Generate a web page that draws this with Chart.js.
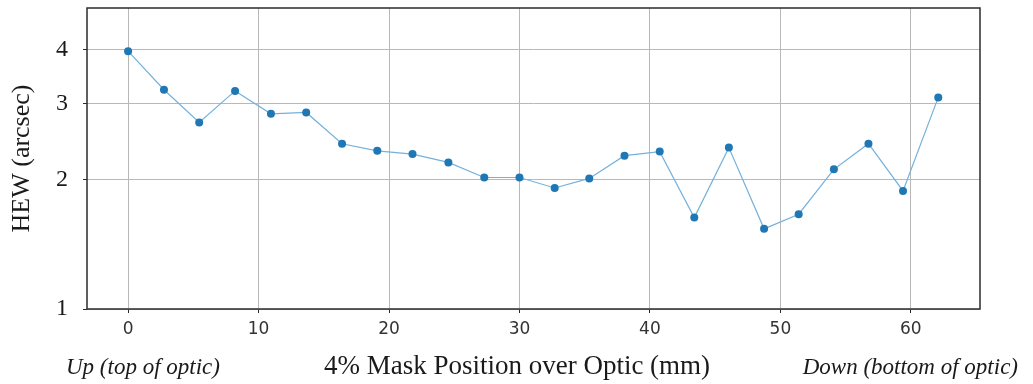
<!DOCTYPE html>
<html>
<head>
<meta charset="utf-8">
<script src="https://cdn.jsdelivr.net/npm/chart.js@4.4.1/dist/chart.umd.min.js"></script>
<style>
  html, body { margin: 0; padding: 0; background: #fff; }
  #wrap { width: 1033px; height: 384px; }
</style>
</head>
<body>
<div id="wrap"><canvas id="hewChart" width="1033" height="384"></canvas></div>
<script>
// mask positions (mm) and measured HEW (arcsec)
var positions = [0, 2.75, 5.45, 8.2, 10.95, 13.65, 16.4, 19.1, 21.8, 24.55, 27.3, 30.0,
                 32.7, 35.35, 38.05, 40.75, 43.4, 46.05, 48.75, 51.4, 54.1, 56.75, 59.4, 62.1];
var hew = [3.97, 3.23, 2.71, 3.21, 2.84, 2.86, 2.42, 2.33, 2.29, 2.19, 2.02, 2.02,
           1.91, 2.01, 2.27, 2.32, 1.63, 2.37, 1.535, 1.66, 2.11, 2.42, 1.88, 3.10];
var xTicks = [0, 10, 20, 30, 40, 50, 60];
var yTicks = [1, 2, 3, 4];

var xTitle = "4% Mask Position over Optic (mm)";
var leftNote = "Up (top of optic)";
var rightNote = "Down (bottom of optic)";

var points = positions.map(function (p, i) { return { x: p, y: hew[i] }; });

// frame round the plot + the texts under the x axis
var framePlugin = {
  id: "frame",
  beforeDatasetsDraw: function (chart) {
    var a = chart.chartArea, ctx = chart.ctx;
    ctx.save();
    ctx.strokeStyle = "#2b2b2b";
    ctx.lineWidth = 1.5;
    ctx.strokeRect(a.left, a.top, a.right - a.left, a.bottom - a.top);
    ctx.restore();
  },
  afterDraw: function (chart) {
    var ctx = chart.ctx;
    ctx.save();
    ctx.fillStyle = "#1a1a1a";
    ctx.textBaseline = "middle";
    ctx.font = "27px 'Liberation Serif', 'Times New Roman', serif";
    ctx.textAlign = "center";
    ctx.fillText(xTitle, 517, 367);
    ctx.font = "italic 23px 'Liberation Serif', 'Times New Roman', serif";
    ctx.textAlign = "left";
    ctx.fillText(leftNote, 66, 368);
    ctx.textAlign = "right";
    ctx.fillText(rightNote, 1018, 368);
    ctx.restore();
  }
};

new Chart(document.getElementById("hewChart"), {
  type: "line",
  data: {
    datasets: [{
      data: points,
      borderColor: "#74b1dc",
      borderWidth: 1.2,
      pointBackgroundColor: "#1f77b4",
      pointBorderColor: "#1f77b4",
      pointRadius: 4,
      pointBorderWidth: 0,
      tension: 0
    }]
  },
  options: {
    responsive: false,
    animation: false,
    layout: { padding: { top: 8, right: 53, left: 0, bottom: 0 } },
    plugins: {
      legend: { display: false },
      tooltip: { enabled: false }
    },
    scales: {
      x: {
        type: "linear",
        min: -3.15,
        max: 65.3,
        afterBuildTicks: function (s) { s.ticks = xTicks.map(function (v) { return { value: v }; }); },
        afterFit: function (s) { s.height = 75; s.paddingLeft = 0; s.paddingRight = 0; },
        grid: { color: "#b8b8b8", lineWidth: 1, tickLength: 4, tickColor: "#2b2b2b" },
        border: { display: false },
        ticks: {
          padding: 6,
          color: "#333",
          font: { family: "'DejaVu Sans', sans-serif", size: 17 },
          callback: function (v) { return String(v); }
        }
      },
      y: {
        type: "logarithmic",
        min: 1,
        max: 5,
        afterBuildTicks: function (s) { s.ticks = yTicks.map(function (v) { return { value: v }; }); },
        afterFit: function (s) { s.width = 87; s.paddingTop = 0; s.paddingBottom = 0; },
        grid: { color: "#b8b8b8", lineWidth: 1, tickLength: 4, tickColor: "#2b2b2b" },
        border: { display: false },
        ticks: {
          padding: 15,
          color: "#1a1a1a",
          font: { family: "'Liberation Serif', 'Times New Roman', serif", size: 24 },
          callback: function (v) { return String(v); }
        },
        title: {
          display: true,
          text: "HEW (arcsec)",
          color: "#1a1a1a",
          padding: { top: 7, bottom: 0 },
          font: { family: "'Liberation Serif', 'Times New Roman', serif", size: 26 }
        }
      }
    }
  },
  plugins: [framePlugin]
});
</script>
</body>
</html>
